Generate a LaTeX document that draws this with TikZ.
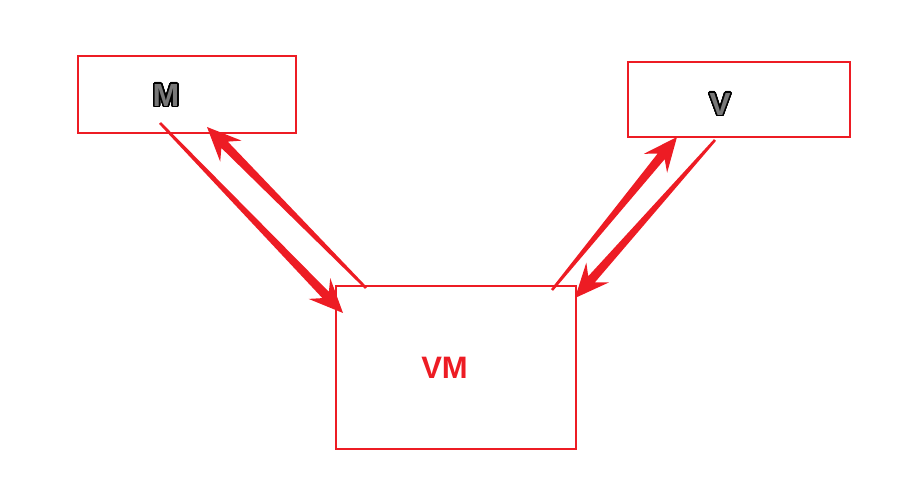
\documentclass[tikz,border=0pt]{standalone}
\usepackage{fontspec}
\setsansfont{Liberation Sans}
\usepackage{tikz}
\usetikzlibrary{positioning}
\usetikzlibrary{calc}
\usepackage{contour}
\contourlength{1.5pt}
\contournumber{32}
\definecolor{vmred}{RGB}{237,28,36}
\definecolor{lettergray}{RGB}{120,120,120}
\newcommand{\outlined}[1]{%
	\contour{black}{\color{lettergray}#1}}
\newcommand{\fatarrow}[2]{%
	\coordinate (h1) at ($(#2)!25pt!(#1)$);
	\coordinate (h2) at ($(#2)!34pt!(#1)$);
	\fill[vmred] ($(#1)!1.3pt!90:(#2)$) -- ($(h1)!4.5pt!90:(#2)$) -- ($(h2)!15pt!90:(#2)$) -- (#2)
		-- ($(h2)!15pt!-90:(#2)$) -- ($(h1)!4.5pt!-90:(#2)$) -- ($(#1)!1.3pt!-90:(#2)$) -- cycle;}

\begin{document}
\begin{tikzpicture}[x=1pt,y=-1pt,
	box/.style={draw=vmred, line width=1.5pt, inner sep=0pt},
	letter/.style={font=\sffamily\bfseries\fontsize{32}{32}\selectfont, inner sep=0pt}]
					\useasboundingbox (0,0) rectangle (906,486);

					% boxes
					\node[box, minimum width=218pt, minimum height=77pt] (mbox) at (187,94.5) {};
					\node[box, minimum width=222pt, minimum height=75pt] (vbox) at (739,99.5) {};
					\node[box, minimum width=240pt, minimum height=163pt] (vmbox) at (456,367.5) {};

					% labels
					\node[letter] (m) at (166,96) {\outlined{M}};
					\node[letter] (v) at (720,105) {\outlined{V}};
					\node[letter, text=vmred, font=\sffamily\bfseries\fontsize{31}{31}\selectfont] (vm) at (444.5,368) {VM};

					% arrow ends
					\coordinate (m-out) at (160,123);
					\coordinate (vm-in) at (343,313);
					\coordinate (vm-out) at (366,288);
					\coordinate (m-in) at (207,127);
					\coordinate (vm-out2) at (552,290);
					\coordinate (v-in) at (677,137);
					\coordinate (v-out) at (715,140);
					\coordinate (vm-in2) at (575,298);

					\fatarrow{m-out}{vm-in}
					\fatarrow{vm-out}{m-in}
					\fatarrow{vm-out2}{v-in}
					\fatarrow{v-out}{vm-in2}
\end{tikzpicture}
\end{document}
